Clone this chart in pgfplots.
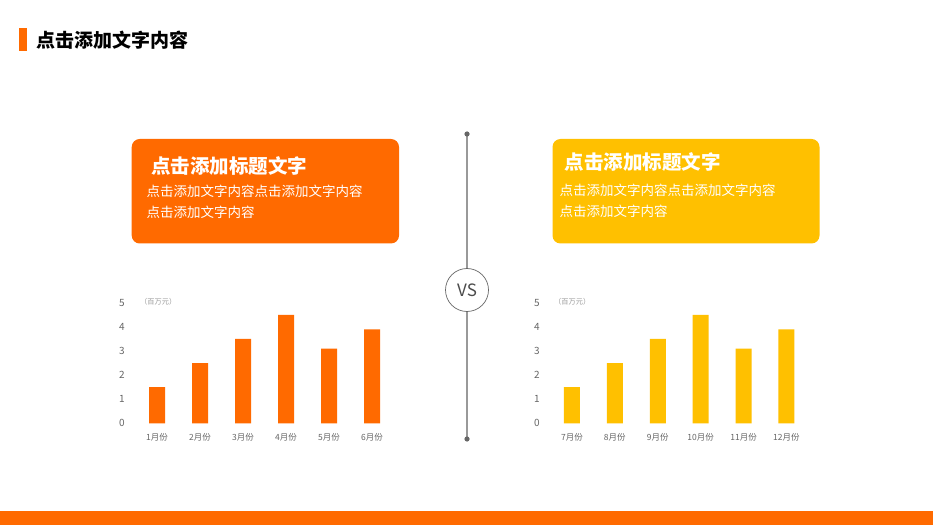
\documentclass[border=0pt]{standalone}
\usepackage{pgfplots}
\pgfplotsset{compat=1.18}
\usepackage{fontspec}
\setmainfont{Noto Sans CJK SC}
\definecolor{myorange}{HTML}{FF6A00}
\definecolor{myyellow}{HTML}{FFC000}
\definecolor{ticktext}{HTML}{666666}
\definecolor{unitgray}{HTML}{999999}
\pgfplotsset{
  vsbars/.style={
    scale only axis, width=258pt, height=120.5pt,
    anchor=south west,
    xmin=-0.5, xmax=5.5, ymin=0, ymax=5,
    ytick={0,1,2,3,4,5}, xtick={0,1,2,3,4,5},
    axis line style={draw=none}, tick style={draw=none},
    major tick length=0pt,
    ybar, bar width=16pt,
    /pgf/number format/assume math mode=true,
    yticklabel style={font=\fontsize{10}{10}\selectfont, text=ticktext, anchor=center, xshift=-13.5pt},
    xticklabel style={font=\fontsize{8.5}{8.5}\selectfont, text=ticktext, anchor=center, yshift=-13.5pt},
    clip=false,
  }
}
\begin{document}
\begin{tikzpicture}[x=1pt,y=1pt]
\useasboundingbox (0pt,0pt) rectangle (933pt,525pt);
\fill[white] (0,0) rectangle (933,525);
% header
\fill[myorange] (19,474) rectangle (27,497);
\node[anchor=west, inner sep=0pt, font=\fontsize{19}{19}\selectfont\bfseries] at (36,485) {点击添加文字内容};
% bottom band
\fill[myorange] (0,0) rectangle (933,14.3);
% boxes
\fill[myorange, rounded corners=8pt] (131.7,281.5) rectangle (399,386);
\fill[myyellow, rounded corners=8pt] (552.5,281.5) rectangle (819.5,386);
\node[anchor=west, inner sep=0pt, text=white, font=\fontsize{19.5}{19.5}\selectfont\bfseries] at (151,359) {点击添加标题文字};
\node[anchor=west, inner sep=0pt, text=white, font=\fontsize{13.5}{13.5}\selectfont] at (146.5,334) {点击添加文字内容点击添加文字内容};
\node[anchor=west, inner sep=0pt, text=white, font=\fontsize{13.5}{13.5}\selectfont] at (146.5,313) {点击添加文字内容};
\node[anchor=west, inner sep=0pt, text=white, font=\fontsize{19.5}{19.5}\selectfont\bfseries] at (564.5,363) {点击添加标题文字};
\node[anchor=west, inner sep=0pt, text=white, font=\fontsize{13.5}{13.5}\selectfont] at (559.5,335) {点击添加文字内容点击添加文字内容};
\node[anchor=west, inner sep=0pt, text=white, font=\fontsize{13.5}{13.5}\selectfont] at (559.5,314) {点击添加文字内容};
% divider
\draw[color=black!40, line width=1.3pt] (467,391) -- (467,86);
\fill[black!60] (467,391) circle (2.6);
\fill[black!60] (467,86) circle (2.6);
\draw[fill=white, draw=black!60, line width=0.7pt] (467,235) circle (21.5);
\node[text=black!70, font=\fontsize{17}{17}\selectfont] at (467,235) {VS};
% left chart
\begin{axis}[vsbars, at={(135.5pt,101.7pt)},
  xticklabels={1月份,2月份,3月份,4月份,5月份,6月份}]
\addplot[fill=myorange, draw=none] coordinates {(0,1.5) (1,2.5) (2,3.5) (3,4.5) (4,3.1) (5,3.9)};
\end{axis}
\node[anchor=west, inner sep=0pt, text=unitgray, font=\fontsize{7.2}{7.2}\selectfont] at (140pt,223pt) {（百万元）};
% right chart
\begin{axis}[vsbars, at={(550.5pt,101.7pt)}, width=257.4pt,
  xticklabels={7月份,8月份,9月份,10月份,11月份,12月份}]
\addplot[fill=myyellow, draw=none] coordinates {(0,1.5) (1,2.5) (2,3.5) (3,4.5) (4,3.1) (5,3.9)};
\end{axis}
\node[anchor=west, inner sep=0pt, text=unitgray, font=\fontsize{7.2}{7.2}\selectfont] at (554pt,223pt) {（百万元）};
\end{tikzpicture}
\end{document}
